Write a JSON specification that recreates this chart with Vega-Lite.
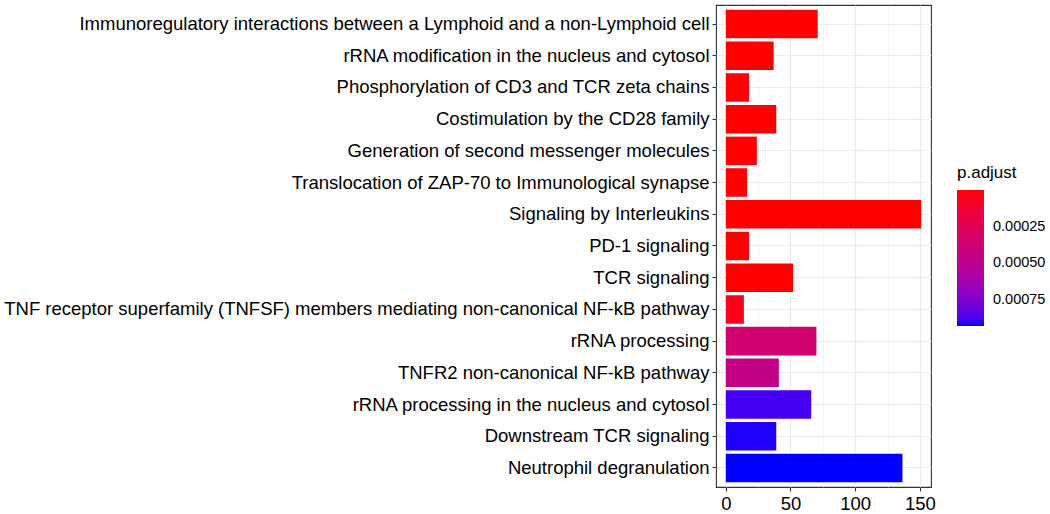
{
  "$schema": "https://vega.github.io/schema/vega-lite/v6.json",
  "autosize": "none",
  "width": 215,
  "height": 482,
  "padding": {"left": 716, "top": 5, "right": 119, "bottom": 27},
  "background": "white",
  "config": {
    "font": "Liberation Sans",
    "view": {"stroke": "#333333", "strokeWidth": 1.1},
    "axis": {
      "domain": false,
      "grid": true,
      "gridColor": "#EBEBEB",
      "gridWidth": 1.1,
      "tickColor": "#333333",
      "tickSize": 4,
      "tickWidth": 1.1,
      "labelColor": "#000000",
      "labelFontSize": 18.5,
      "labelPadding": 3,
      "title": null
    }
  },
  "data": {
    "values": [
      {"Description": "Immunoregulatory interactions between a Lymphoid and a non-Lymphoid cell", "Count": 71, "padj": 0.000000001},
      {"Description": "rRNA modification in the nucleus and cytosol", "Count": 37, "padj": 0.0000000015},
      {"Description": "Phosphorylation of CD3 and TCR zeta chains", "Count": 18, "padj": 0.000000003},
      {"Description": "Costimulation by the CD28 family", "Count": 39, "padj": 0.000000008},
      {"Description": "Generation of second messenger molecules", "Count": 24, "padj": 0.00000002},
      {"Description": "Translocation of ZAP-70 to Immunological synapse", "Count": 16.5, "padj": 0.00000005},
      {"Description": "Signaling by Interleukins", "Count": 151, "padj": 0.0000001},
      {"Description": "PD-1 signaling", "Count": 18, "padj": 0.0000002},
      {"Description": "TCR signaling", "Count": 52, "padj": 0.0000006},
      {"Description": "TNF receptor superfamily (TNFSF) members mediating non-canonical NF-kB pathway", "Count": 14, "padj": 0.000046},
      {"Description": "rRNA processing", "Count": 70, "padj": 0.000372},
      {"Description": "TNFR2 non-canonical NF-kB pathway", "Count": 41, "padj": 0.000456},
      {"Description": "rRNA processing in the nucleus and cytosol", "Count": 66, "padj": 0.000884},
      {"Description": "Downstream TCR signaling", "Count": 39, "padj": 0.00092},
      {"Description": "Neutrophil degranulation", "Count": 136.5, "padj": 0.00093}
    ]
  },
  "transform": [{"calculate": "-datum.padj", "as": "negpadj"}],
  "mark": {"type": "bar", "strokeWidth": 0},
  "encoding": {
    "y": {
      "field": "Description",
      "type": "nominal",
      "sort": null,
      "scale": {"paddingInner": 0.1, "paddingOuter": 0.15},
      "axis": {"labelLimit": 800}
    },
    "x": {
      "field": "Count",
      "type": "quantitative",
      "scale": {"domain": [-7.55, 158.55], "nice": false, "zero": false},
      "axis": {
        "values": [0, 25, 50, 75, 100, 125, 150],
        "labelExpr": "datum.value % 50 == 0 ? datum.label : ''",
        "tickOpacity": {"condition": {"test": "datum.value % 50 != 0", "value": 0}, "value": 1},
        "gridWidth": {"condition": {"test": "datum.value % 50 != 0", "value": 0.55}, "value": 1.1}
      }
    },
    "color": {
      "field": "negpadj",
      "type": "quantitative",
      "scale": {"range": ["#0000FF", "#FF0000"], "interpolate": "lab"},
      "legend": {
        "title": "p.adjust",
        "orient": "none",
        "legendX": 241,
        "legendY": 160,
        "direction": "vertical",
        "gradientLength": 136,
        "gradientThickness": 27,
        "gradientStrokeWidth": 0,
        "values": [-0.00025, -0.0005, -0.00075],
        "labelExpr": "format(-datum.value, '.5f')",
        "labelFontSize": 14.5,
        "labelColor": "#000000",
        "labelOffset": 9,
        "titleFontSize": 17,
        "titleFontWeight": "normal",
        "titleColor": "#000000",
        "titlePadding": 8
      }
    }
  }
}
